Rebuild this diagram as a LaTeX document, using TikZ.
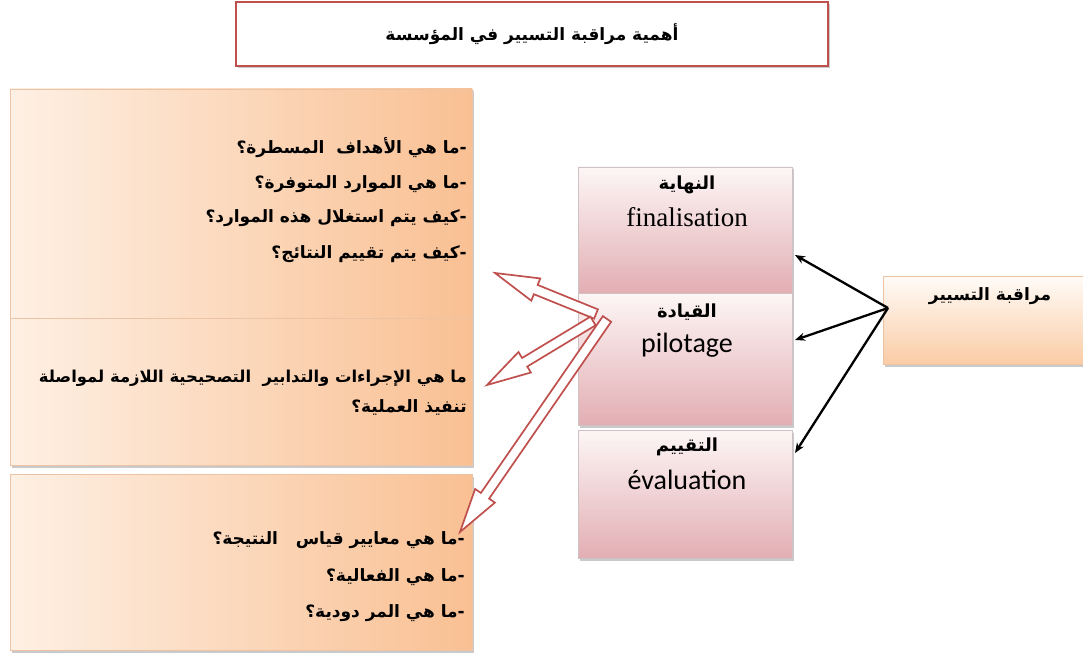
\documentclass[tikz,border=0pt]{standalone}
\usepackage{fontspec}
\usetikzlibrary{calc,shadows,arrows.meta}
\TeXXeTstate=1
\newfontfamily\arabicfont[Script=Arabic]{DejaVu Sans}
\newfontfamily\serifl{Liberation Serif}
\newfontfamily\carl{Carlito}
\definecolor{orL}{RGB}{254,240,228}
\definecolor{orD}{RGB}{249,192,147}
\definecolor{orB}{RGB}{236,196,165}
\definecolor{pkT}{RGB}{253,246,246}
\definecolor{pkD}{RGB}{226,174,179}
\definecolor{pkB}{RGB}{205,195,197}
\definecolor{rbT}{RGB}{255,251,247}
\definecolor{rbD}{RGB}{250,204,166}
\definecolor{arrRed}{RGB}{192,80,77}
\tikzset{
  shd/.style={drop shadow={shadow xshift=2pt,shadow yshift=-2.5pt,opacity=0.35,fill=black!60}},
  box/.style={inner sep=0pt,outer sep=0pt,anchor=north west},
  leftbox/.style={box,shd,draw=orB,line width=0.8pt,left color=orL,right color=orD},
  midbox/.style={box,shd,draw=pkB,line width=0.8pt,top color=pkT,bottom color=pkD},
  rightbox/.style={box,shd,draw=orB,line width=0.8pt,top color=rbT,bottom color=rbD},
  titlebox/.style={box,shd,draw=arrRed,line width=2.4pt,fill=white},
  qtext/.style={inner sep=0pt,anchor=east,font=\arabicfont\bfseries\fontsize{17}{20}\selectfont},
  artext/.style={inner sep=0pt,font=\arabicfont\bfseries\fontsize{18}{20}\selectfont},
  ltext/.style={inner sep=0pt},
  redarrow/.style={draw=arrRed,line width=1.7pt,fill=white,line join=miter},
  blk/.style={draw=black,line width=2.3pt,-{Stealth[length=10pt,width=8pt]}}
}
\newcommand\hollowarrow[2]{%
  \coordinate (#1base) at ($(#2)!44pt!(#1)$);
  \draw[redarrow] ($(#1)!5pt!90:(#2)$) -- ($(#1base)!5pt!90:(#2)$)
    -- ($(#1base)!12pt!90:(#2)$) -- (#2) -- ($(#1base)!12pt!-90:(#2)$)
    -- ($(#1base)!5pt!-90:(#2)$) -- ($(#1)!5pt!-90:(#2)$) -- cycle;
}
\begin{document}
\begin{tikzpicture}[x=1pt,y=-1pt]
\useasboundingbox (0,0) rectangle (1083,655);
% title
\node[titlebox,minimum width=592pt,minimum height=64pt] (title) at (236,2) {};
\node[artext,font=\arabicfont\bfseries\fontsize{17}{20}\selectfont] (titletxt) at (title.center) {\beginR أهمية مراقبة التسيير في المؤسسة\endR};
% left boxes
\node[leftbox,minimum width=462pt,minimum height=229pt] (b1) at (10,89) {};
\node[leftbox,minimum width=462pt,minimum height=147pt] (b2) at (10,318) {};
\node[leftbox,minimum width=462pt,minimum height=176pt] (b3) at (10,474) {};
% middle boxes
\node[midbox,minimum width=214pt,minimum height=126pt] (bA) at (578,167) {};
\node[midbox,minimum width=214pt,minimum height=132pt] (bB) at (578,293) {};
\node[midbox,minimum width=214pt,minimum height=128pt] (bC) at (578,430) {};
% right box
\node[rightbox,minimum width=212pt,minimum height=88pt] (rb) at (883,276) {};
% left texts
\node[qtext] (q11) at (467,148) {\beginR -ما هي الأهداف\ \ المسطرة؟\endR};
\node[qtext] (q12) at (467,184) {\beginR -ما هي الموارد المتوفرة؟\endR};
\node[qtext] (q13) at (467,218) {\beginR -كيف يتم استغلال هذه الموارد؟\endR};
\node[qtext] (q14) at (467,254) {\beginR -كيف يتم تقييم النتائج؟\endR};
\node[qtext,font=\arabicfont\bfseries\fontsize{16.4}{20}\selectfont] (q21) at (467,378) {\beginR ما هي الإجراءات والتدابير\ \ التصحيحية اللازمة لمواصلة\endR};
\node[qtext] (q22) at (467,407) {\beginR تنفيذ العملية؟\endR};
\node[qtext] (q31) at (465,540) {\beginR -ما هي معايير قياس\ \ \ النتيجة؟\endR};
\node[qtext] (q32) at (465,577) {\beginR -ما هي الفعالية؟\endR};
\node[qtext] (q33) at (465,613) {\beginR -ما هي المر دودية؟\endR};
% middle texts
\node[artext] (tA1) at (687,185) {\beginR النهاية\endR};
\node[ltext,font=\serifl\fontsize{27}{30}\selectfont] (tA2) at (687,217) {finalisation};
\node[artext] (tB1) at (687,312) {\beginR القيادة\endR};
\node[ltext,font=\carl\fontsize{28}{30}\selectfont] (tB2) at (687,345) {pilotage};
\node[artext] (tC1) at (687,447) {\beginR التقييم\endR};
\node[ltext,font=\carl\fontsize{28}{30}\selectfont] (tC2) at (687,480) {évaluation};
% right text
\node[artext,font=\arabicfont\bfseries\fontsize{17}{20}\selectfont] (rt) at (990,296) {\beginR مراقبة التسيير\endR};
% red hollow arrows
\coordinate (t1) at (596,314); \coordinate (h1) at (495,273);
\coordinate (t2) at (593,321); \coordinate (h2) at (487,385);
\coordinate (t3) at (607,319); \coordinate (h3) at (460,532);
\hollowarrow{t1}{h1}
\hollowarrow{t2}{h2}
\hollowarrow{t3}{h3}
% black arrows
\coordinate (src) at (888,308);
\coordinate (eA) at (795,255);
\coordinate (eB) at (795,340);
\coordinate (eC) at (795,453);
\draw[blk] (src) -- (eA);
\draw[blk] (src) -- (eB);
\draw[blk] (src) -- (eC);
\end{tikzpicture}
\end{document}
